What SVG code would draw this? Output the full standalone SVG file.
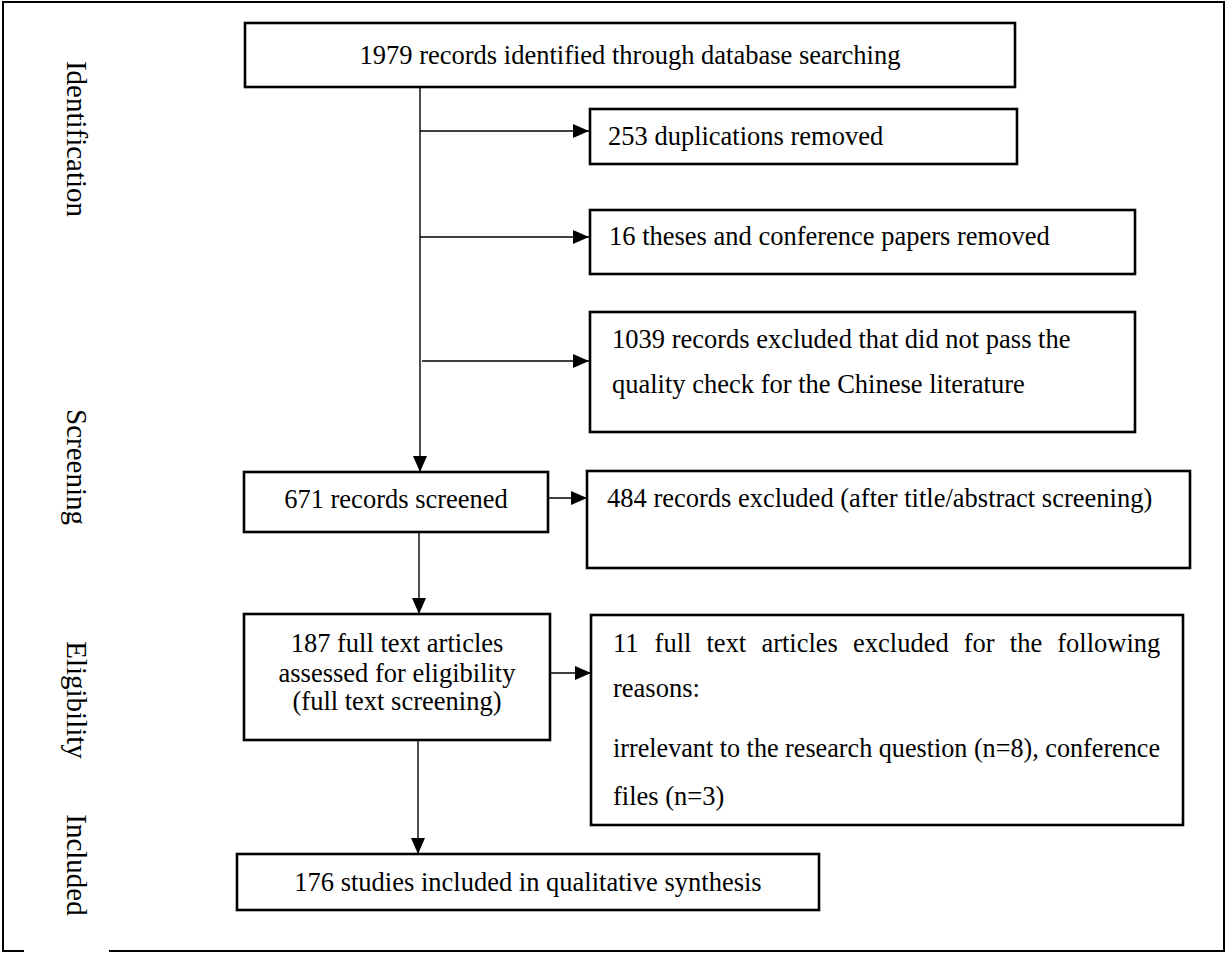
<svg xmlns="http://www.w3.org/2000/svg" width="1228" height="954" viewBox="0 0 1228 954">
<style>
  .box { fill: #ffffff; stroke: #000000; stroke-width: 2.6; }
  .t { font-family: "Liberation Serif", "Times New Roman", serif; font-size: 26.5px; fill: #000000; }
  .c { text-anchor: middle; }
  .side { font-family: "Liberation Serif", "Times New Roman", serif; font-size: 29px; fill: #000000; text-anchor: middle; }
  .conn { fill: none; stroke: #000000; stroke-width: 1.4; marker-end: url(#arrow); }
  .frame { fill: none; stroke: #000000; stroke-width: 2; }
</style>
<defs>
  <marker id="arrow" markerUnits="userSpaceOnUse" markerWidth="16" markerHeight="14" refX="16" refY="7" orient="auto">
    <path d="M0,0 L16,7 L0,14 Z" fill="#000000"/>
  </marker>
</defs>
<rect x="0" y="0" width="1228" height="954" fill="#ffffff"/>
<path class="frame" d="M24,951 H3 V2 H1224 V951 H109"/>

<g id="stage-labels">
  <text class="side" transform="translate(67,139) rotate(90)">Identification</text>
  <text class="side" transform="translate(67,467) rotate(90)">Screening</text>
  <text class="side" transform="translate(67,700) rotate(90)">Eligibility</text>
  <text class="side" transform="translate(67,865) rotate(90)">Included</text>
</g>

<g id="connectors">
  <path class="conn" d="M420,87 V472"/>
  <path class="conn" d="M420,131 H589"/>
  <path class="conn" d="M420,237 H589"/>
  <path class="conn" d="M422,361 H589"/>
  <path class="conn" d="M548,498 H587"/>
  <path class="conn" d="M419,532 V614"/>
  <path class="conn" d="M550,673 H591"/>
  <path class="conn" d="M418,740 V854"/>
</g>

<g id="identified">
  <rect class="box" x="245" y="23" width="770" height="64"/>
  <text class="t c" x="630" y="64">1979 records identified through database searching</text>
</g>

<g id="duplicates">
  <rect class="box" x="590" y="109" width="427" height="55"/>
  <text class="t" x="608" y="145">253 duplications removed</text>
</g>

<g id="theses">
  <rect class="box" x="590" y="210" width="545" height="64"/>
  <text class="t" x="609" y="245">16 theses and conference papers removed</text>
</g>

<g id="quality">
  <rect class="box" x="590" y="312" width="545" height="120"/>
  <text class="t" x="612" y="348">1039 records excluded that did not pass the</text>
  <text class="t" x="612" y="393">quality check for the Chinese literature</text>
</g>

<g id="screened">
  <rect class="box" x="244" y="472" width="304" height="60"/>
  <text class="t c" x="396" y="508">671 records screened</text>
</g>

<g id="excluded-title">
  <rect class="box" x="587" y="471" width="603" height="97"/>
  <text class="t" x="607" y="507">484 records excluded (after title/abstract screening)</text>
</g>

<g id="fulltext">
  <rect class="box" x="244" y="614" width="306" height="126"/>
  <text class="t c" x="397" y="652">187 full text articles</text>
  <text class="t c" x="397" y="682">assessed for eligibility</text>
  <text class="t c" x="397" y="710">(full text screening)</text>
</g>

<g id="excluded-fulltext">
  <rect class="box" x="591" y="615" width="592" height="210"/>
  <text class="t" y="652"><tspan x="613">11</tspan><tspan x="654.6">full</tspan><tspan x="706.5">text</tspan><tspan x="761.4">articles</tspan><tspan x="853">excluded</tspan><tspan x="963.8">for</tspan><tspan x="1009.8">the</tspan><tspan x="1057.3">following</tspan></text>
  <text class="t" x="613" y="697">reasons:</text>
  <text class="t" x="613" y="757" textLength="547" lengthAdjust="spacingAndGlyphs">irrelevant to the research question (n=8), conference</text>
  <text class="t" x="613" y="805">files (n=3)</text>
</g>

<g id="included">
  <rect class="box" x="237" y="854" width="582" height="56"/>
  <text class="t c" x="528" y="891">176 studies included in qualitative synthesis</text>
</g>
</svg>
